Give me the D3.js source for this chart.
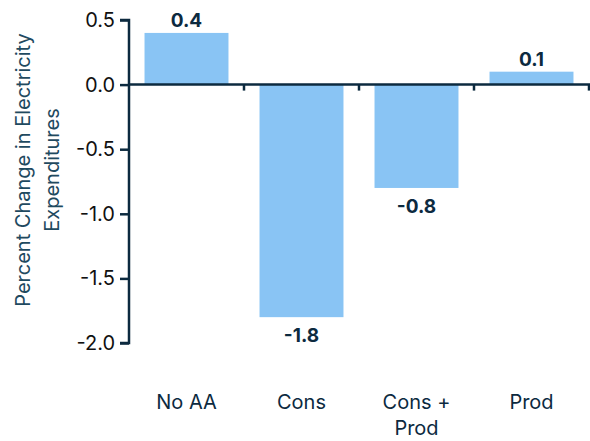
<!DOCTYPE html>
<html>
<head>
<meta charset="utf-8">
<script src="https://cdn.jsdelivr.net/npm/d3@7"></script>
<style>
  body { margin: 0; background: #fff; }
  text { font-family: Inter, "Noto Sans", sans-serif; }
</style>
</head>
<body>
<svg id="chart" width="590" height="441"></svg>
<script>
var categories = [["No AA"], ["Cons"], ["Cons +", "Prod"], ["Prod"]];
var values = [0.4, -1.8, -0.8, 0.1];
var yTicks = [0.5, 0.0, -0.5, -1.0, -1.5, -2.0];

var ink = "#0c2a3f",
    barColor = "#89c4f4";

var svg = d3.select("#chart");
var margin = {left: 129, right: 1, top: 20, bottom: 98};
var width = 590, height = 441;

var keys = categories.map(function(c) { return c.join(" "); });
var x = d3.scaleBand()
    .domain(keys)
    .range([margin.left, width - margin.right])
    .paddingInner(0.27)
    .paddingOuter(0.135);

var y = d3.scaleLinear()
    .domain([-2.0, 0.5])
    .range([height - margin.bottom, margin.top]);

var fmt = function(d) { return d3.format(".1f")(d).replace("−", "-"); };

// bars
svg.append("g").selectAll("rect")
    .data(values)
    .enter().append("rect")
    .attr("x", function(d, i) { return x(keys[i]); })
    .attr("width", x.bandwidth())
    .attr("y", function(d) { return y(Math.max(0, d)); })
    .attr("height", function(d) { return Math.abs(y(d) - y(0)); })
    .attr("fill", barColor);

// y axis
var yAxis = svg.append("g")
    .attr("transform", "translate(" + margin.left + ",0)")
    .call(d3.axisLeft(y).tickValues(yTicks).tickFormat(fmt).tickSize(9).tickPadding(5));
yAxis.selectAll("path, line").attr("stroke", ink).attr("stroke-width", 2.5);
yAxis.select(".domain").attr("d", "M-9," + y(0.5) + "H0V" + y(-2.0) + "H-9");
yAxis.selectAll("text")
    .attr("fill", "#111")
    .style("font-size", "20px");

// x axis line at zero with ticks at category boundaries
var step = x.step();
var xg = svg.append("g");
xg.append("line")
    .attr("x1", margin.left).attr("x2", width)
    .attr("y1", y(0)).attr("y2", y(0))
    .attr("stroke", ink).attr("stroke-width", 2.5);
xg.selectAll("line.tick")
    .data(keys)
    .enter().append("line")
    .attr("class", "tick")
    .attr("x1", function(d) { return x(d) - step * x.paddingInner() / 2 + step; })
    .attr("x2", function(d) { return x(d) - step * x.paddingInner() / 2 + step; })
    .attr("y1", y(0)).attr("y2", y(0) + 6)
    .attr("stroke", ink).attr("stroke-width", 2.5);

// category labels
var catLabels = svg.append("g").selectAll("text")
    .data(categories)
    .enter().append("text")
    .attr("text-anchor", "middle")
    .attr("fill", ink)
    .style("font-size", "20px")
    .attr("x", function(d, i) { return x(keys[i]) + x.bandwidth() / 2; })
    .attr("y", 409);
catLabels.selectAll("tspan")
    .data(function(d) { return d; })
    .enter().append("tspan")
    .attr("x", function() { return d3.select(this.parentNode).attr("x"); })
    .attr("dy", function(d, i) { return i === 0 ? 0 : 26; })
    .text(function(d) { return d; });

// value labels
svg.append("g").selectAll("text")
    .data(values)
    .enter().append("text")
    .attr("text-anchor", "middle")
    .attr("fill", ink)
    .style("font-size", "19px")
    .style("font-weight", "bold")
    .attr("x", function(d, i) { return x(keys[i]) + x.bandwidth() / 2; })
    .attr("y", function(d) { return d >= 0 ? y(d) - 6 : y(d) + 25; })
    .text(fmt);

// y axis title
var title = svg.append("text")
    .attr("transform", "translate(30,170) rotate(-90)")
    .attr("text-anchor", "middle")
    .attr("fill", "#1f4a60")
    .style("font-size", "20px");
title.append("tspan").attr("x", 0).attr("dy", 0).text("Percent Change in Electricity");
title.append("tspan").attr("x", 0).attr("dy", 29).text("Expenditures");
</script>
</body>
</html>
